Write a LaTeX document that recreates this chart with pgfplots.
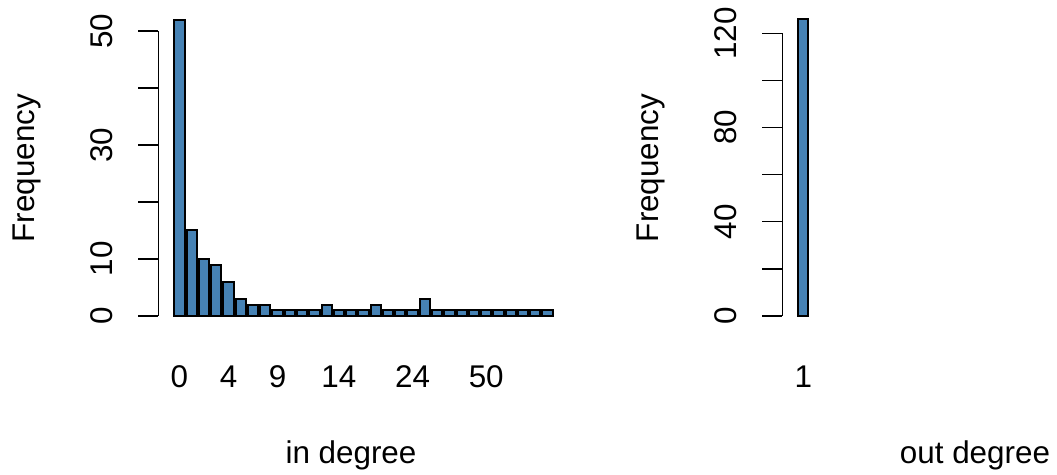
\documentclass[border=0pt]{standalone}
\usepackage{fontspec}
\setmainfont{Liberation Sans}
\usepackage{pgfplots}
\pgfplotsset{compat=1.18}
\definecolor{steelblue}{HTML}{4682B4}

% R barplot look: only a left axis, no box, outward ticks
\pgfplotsset{
  rbar/.style={
    scale only axis, clip=false,
    axis y line*=left, axis x line*=bottom,
    every outer y axis line/.append style={-},
    every outer x axis line/.append style={-},
    x axis line style={draw=none},
    major x tick style={draw=none},
    y axis line style={line width=0.65pt},
    major y tick style={line width=0.65pt, black},
    tick align=outside, major tick length=10pt,
    ybar, bar width=0.8333, bar shift=0pt,
    ymin=0, xmin=-1.72,
    tick label style={font=\fontsize{15.7}{18}\selectfont},
    label style={font=\fontsize{15.7}{18}\selectfont},
    yticklabel style={rotate=90, anchor=center, yshift=18.3pt},
    xticklabel style={anchor=base, yshift=-26pt},
    ylabel style={anchor=center},
    xlabel style={at={(axis description cs:0,0)}, anchor=base, xshift=96.35pt, yshift=-73.8pt},
  },
  rfill/.style={fill=steelblue, draw=black, line width=1pt},
}

\begin{document}
\begin{tikzpicture}
\path[use as bounding box] (0,0) rectangle (528.5pt,237.5pt);

% in degree
\begin{axis}[rbar,
    at={(79.15pt,79.5pt)}, anchor=south west,
    width=197.2pt, height=142.5pt,
    xmax=30.4167, ymax=50,
    ytick={0,10,20,30,40,50}, yticklabels={0,10,,30,,50},
    xtick={0,4,8,13,19,25}, xticklabels={0,4,9,14,24,50},
    ylabel={Frequency}, xlabel={in degree},
    ylabel style={at={(axis description cs:0,0.519)}, yshift=65.6pt},
  ]
  \addplot[rfill] coordinates {
    (0,52) (1,15) (2,10) (3,9) (4,6) (5,3) (6,2) (7,2) (8,1) (9,1)
    (10,1) (11,1) (12,2) (13,1) (14,1) (15,1) (16,2) (17,1) (18,1) (19,1)
    (20,3) (21,1) (22,1) (23,1) (24,1) (25,1) (26,1) (27,1) (28,1) (29,1) (30,1)
  };
\end{axis}

% out degree
\begin{axis}[rbar,
    at={(391.15pt,79.5pt)}, anchor=south west,
    width=22.8pt, height=141.35pt,
    xmax=2, ymax=120,
    ytick={0,20,40,60,80,100,120}, yticklabels={0,,40,,80,,120},
    xtick={0}, xticklabels={1},
    ylabel={Frequency}, xlabel={out degree},
    ylabel style={at={(axis description cs:0,0.5235)}, yshift=65.6pt},
  ]
  \addplot[rfill] coordinates {(0,126)};
\end{axis}
\end{tikzpicture}
\end{document}
